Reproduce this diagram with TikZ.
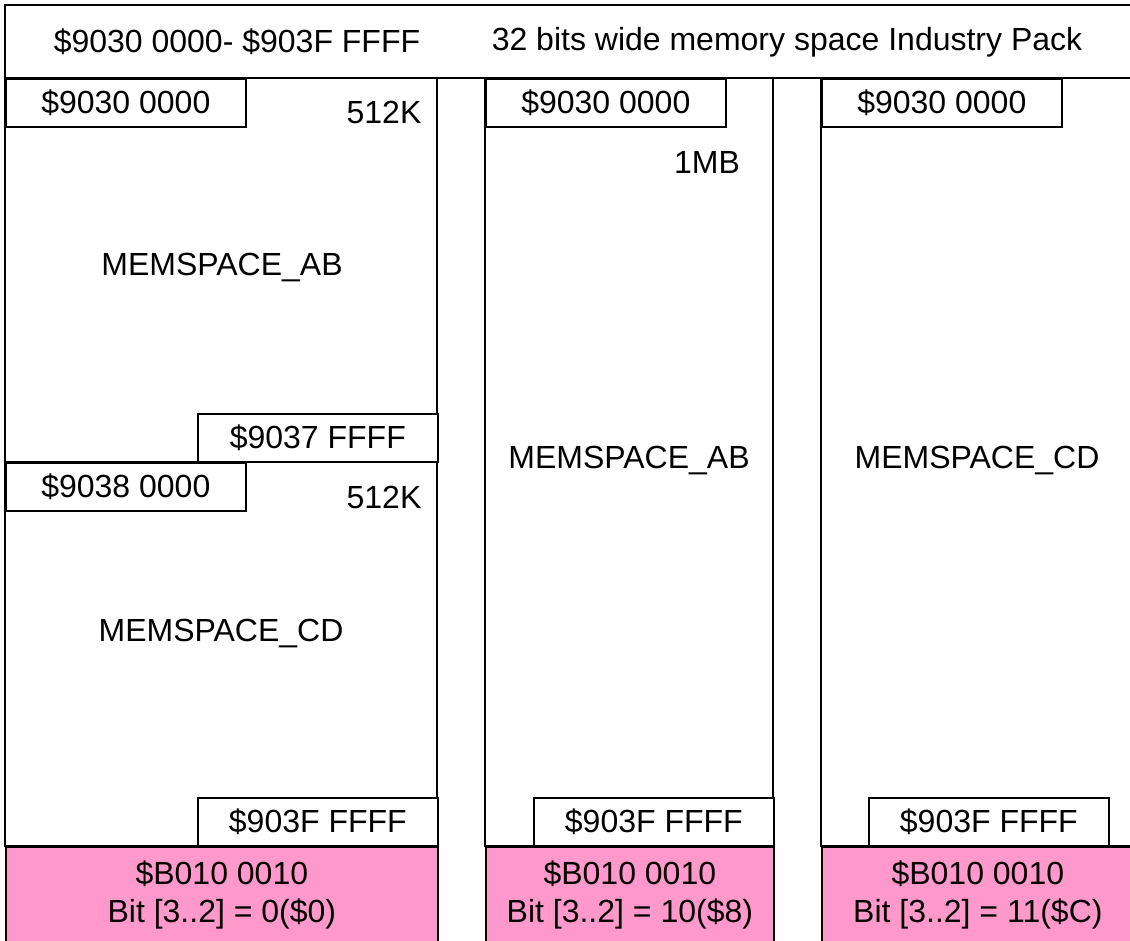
\documentclass[tikz,border=0pt]{standalone}
\usepackage{fontspec}
\setmainfont{Liberation Sans}
\usepackage{xcolor}
\definecolor{RegPink}{RGB}{255,153,204}

\begin{document}
\begin{tikzpicture}[x=0.5pt, y=-0.5pt,
        font=\fontsize{16}{19}\selectfont,
        frame/.style={draw=black, line width=0.85pt},
        addr/.style={frame, fill=white, rectangle, inner sep=0pt, minimum width=120pt, minimum height=24pt, anchor=north west},
        reg/.style={frame, fill=RegPink, rectangle, inner sep=0pt, align=center, minimum height=48.5pt, anchor=north west},
        lbl/.style={inner sep=0pt}
    ]
    \useasboundingbox (0,0) rectangle (1130,941);
    \clip (0,0) rectangle (1130,941);

    % header
    \draw[frame] (5,5) rectangle (1140,78);
    \node[lbl] (range) at (237,42) {\$9030 0000- \$903F FFFF};
    \node[lbl] (title) at (787,42) {32 bits wide memory space Industry Pack};

    % column frames
    \draw[frame] (5,78) rectangle (437,846);
    \draw[frame] (5,462) -- (437,462);
    \draw[frame] (485,78) rectangle (773,846);
    \draw[frame] (821,78) rectangle (1133,846);

    % split 512K + 512K
    \node[addr] (a1) at (5,78) {\$9030 0000};
    \node[lbl] (k1) at (384,112) {512K};
    \node[lbl] (ab1) at (222,268) {MEMSPACE\_AB};
    \node[addr] (e1) at (197,413) {\$9037 FFFF};
    \node[addr] (a2) at (5,462) {\$9038 0000};
    \node[lbl] (k2) at (384,497) {512K};
    \node[lbl] (cd1) at (221,634) {MEMSPACE\_CD};
    \node[addr] (e2) at (197,797) {\$903F FFFF};
    \node[reg, minimum width=216pt] (r1) at (5,846) {\$B010 0010\\Bit [3..2] = 0(\$0)};

    % 1MB AB
    \node[addr] (a3) at (485,78) {\$9030 0000};
    \node[lbl] (mb) at (707,162) {1MB};
    \node[lbl] (ab2) at (629,461) {MEMSPACE\_AB};
    \node[addr] (e3) at (533,797) {\$903F FFFF};
    \node[reg, minimum width=144pt] (r2) at (485,846) {\$B010 0010\\Bit [3..2] = 10(\$8)};

    % 1MB CD
    \node[addr] (a4) at (821,78) {\$9030 0000};
    \node[lbl] (cd2) at (977,461) {MEMSPACE\_CD};
    \node[addr] (e4) at (868,797) {\$903F FFFF};
    \node[reg, minimum width=156pt] (r3) at (821,846) {\$B010 0010\\Bit [3..2] = 11(\$C)};
\end{tikzpicture}
\end{document}
